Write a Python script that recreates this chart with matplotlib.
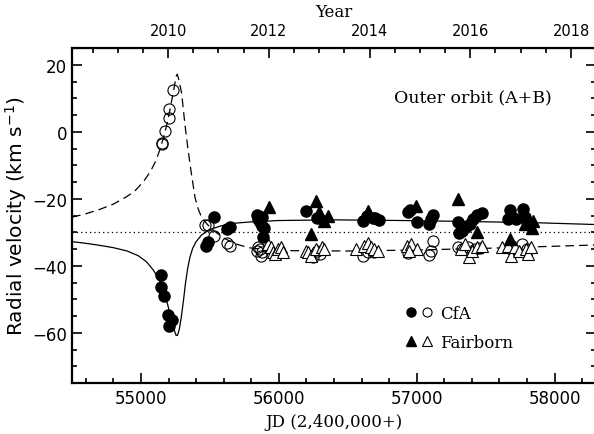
import numpy as np
import matplotlib
matplotlib.use("Agg")
import matplotlib.pyplot as plt
from matplotlib.ticker import MultipleLocator
from matplotlib.legend_handler import HandlerTuple

# CfA primary (filled circles)
cfa_a_jd = [55145, 55145, 55169, 55198, 55206, 55227,
            55472, 55488, 55532, 55622, 55646,
            55839, 55851, 55863, 55880, 55895, 55887, 55875,
            56197, 56274,
            56612, 56640, 56685, 56728, 56700,
            56934, 56950, 57004, 57091, 57115, 57105,
            57297, 57310, 57330, 57360, 57385, 57410, 57435, 57471,
            57660, 57676, 57690, 57720, 57772, 57785, 57800]
cfa_a_rv = [-42.7, -46.2, -48.9, -54.7, -57.9, -56.2,
            -34.0, -33.0, -25.5, -29.0, -28.5,
            -24.9, -26.0, -27.0, -28.2, -28.8, -31.3, -25.5,
            -23.8, -25.8,
            -26.5, -25.0, -25.7, -26.2, -25.8,
            -24.1, -23.5, -27.0, -27.6, -24.9, -26.0,
            -26.8, -30.2, -29.5, -28.5, -27.5, -26.0, -24.9, -24.3,
            -26.0, -23.5, -25.5, -26.0, -23.1, -25.5, -27.0]

# CfA secondary (open circles)
cfa_b_jd = [55150, 55152, 55177, 55201, 55203, 55230,
            55467, 55486, 55532, 55622, 55646,
            55839, 55851, 55863, 55870, 55880,
            56274, 56250, 56300,
            56612, 56690, 56650,
            56934, 57091, 57100, 57120,
            57300, 57330, 57370, 57420, 57460,
            57680, 57720, 57760, 57800]
cfa_b_rv = [-3.6, -3.4, 0.1, 4.0, 6.8, 12.6,
            -27.8, -27.8, -31.0, -33.2, -34.0,
            -35.5, -34.5, -35.0, -37.0, -36.0,
            -35.5, -37.3, -36.5,
            -37.2, -35.8, -36.0,
            -36.2, -36.8, -35.5, -32.5,
            -34.5, -35.0, -34.5, -35.0, -34.8,
            -35.0, -35.5, -33.5, -35.0]

# Fairborn primary (filled triangles)
fb_a_jd = [55931, 56231, 56267, 56293, 56327, 56359, 56649, 56995,
           57297, 57435, 57676, 57785, 57845, 57833]
fb_a_rv = [-22.6, -30.5, -20.6, -24.1, -26.5, -25.0, -23.6, -22.1,
           -20.1, -30.0, -32.0, -27.5, -26.5, -28.8]

# Fairborn secondary (open triangles)
fb_b_jd = [55924, 55942, 55960, 55972, 55995, 56015, 56030,
           56200, 56215, 56230, 56270, 56310, 56330,
           56560, 56620, 56650, 56665, 56690, 56720,
           56930, 56960, 57000, 56945,
           57320, 57350, 57380, 57400, 57440, 57470,
           57620, 57660, 57680, 57710, 57740, 57790, 57810, 57830]
fb_b_rv = [-33.5, -34.3, -36.0, -36.5, -35.0, -34.5, -36.0,
           -35.5, -36.0, -37.0, -35.0, -34.5, -35.0,
           -35.0, -34.0, -33.2, -34.5, -35.0, -35.5,
           -34.0, -33.5, -35.0, -35.5,
           -35.0, -33.5, -37.3, -35.5, -34.5, -34.0,
           -34.5, -34.0, -37.0, -34.5, -35.5, -35.0, -36.5, -34.5]

# orbit curves
curve_a_jd = [54500, 54600, 54700, 54800, 54900, 54980, 55040, 55090, 55130,
              55165, 55195, 55220, 55240, 55255, 55265, 55278, 55292, 55308,
              55322, 55338, 55355, 55375, 55400, 55440, 55500, 55580, 55680,
              55800, 56000, 56400, 56900, 57400, 57900, 58300]
curve_a_rv = [-32.8, -33.3, -33.9, -34.6, -35.6, -37.0, -38.8, -41.3, -44.0,
              -47.5, -51.8, -55.8, -59.0, -60.8, -60.8, -59.0, -55.5, -50.5,
              -45.5, -41.0, -37.5, -34.8, -32.8, -30.8, -29.2, -28.1, -27.3,
              -26.9, -26.5, -26.3, -26.5, -26.8, -27.2, -27.7]
curve_b_jd = [54500, 54600, 54700, 54800, 54900, 54960, 55020, 55070, 55110,
              55140, 55165, 55190, 55215, 55240, 55255, 55263, 55275, 55295,
              55320, 55340, 55358, 55375, 55393, 55415, 55440, 55480, 55530,
              55600, 55680, 55780, 55900, 56100, 56500, 57000, 57500, 57900,
              58300]
curve_b_rv = [-25.5, -24.5, -23.2, -21.6, -19.3, -17.5, -14.8, -11.8, -8.5,
              -5.0, -1.5, 2.5, 7.5, 13.0, 16.5, 17.2, 15.5, 11.5,
              1.8, -4.8, -10.3, -15.0, -19.8, -23.0, -25.6, -27.6, -29.6,
              -31.7, -33.4, -34.6, -35.2, -35.5, -35.6, -35.3, -34.8, -34.3,
              -33.8]
gamma = -30.0

plt.rcParams['font.family'] = 'DejaVu Sans'
fig = plt.figure(figsize=(5.94, 4.35), dpi=100)
ax = fig.add_axes([72/594, 1-384/435, 524/594, 335/435])

ax.plot(curve_a_jd, curve_a_rv, 'k-', lw=0.9)
ax.plot(curve_b_jd, curve_b_rv, 'k', lw=0.9, dashes=(7, 4))
ax.axhline(gamma, color='k', lw=0.9, ls=(0, (1, 2.5)))

ms = 8
ax.plot(cfa_b_jd, cfa_b_rv, 'o', mfc='none', mec='k', mew=0.8, ms=ms)
ax.plot(fb_b_jd, fb_b_rv, '^', mfc='white', mec='k', mew=0.8, ms=ms)
ax.plot(cfa_a_jd, cfa_a_rv, 'o', mfc='k', mec='k', ms=ms)
ax.plot(fb_a_jd, fb_a_rv, '^', mfc='k', mec='k', ms=ms)

ax.set_xlim(54500, 58300)
ax.set_ylim(-75, 25)
ax.xaxis.set_major_locator(MultipleLocator(1000))
ax.xaxis.set_minor_locator(MultipleLocator(200))
ax.yaxis.set_major_locator(MultipleLocator(20))
ax.yaxis.set_minor_locator(MultipleLocator(5))
ax.tick_params(which='both', direction='in', right=True, labelsize=12, width=1.2)
ax.tick_params(which='major', length=7)
ax.tick_params(which='minor', length=3.5)
ax.tick_params(axis='x', pad=4)
for s in ax.spines.values():
    s.set_linewidth(1.6)

def jd2yr(jd):
    return 2000.0 + (np.asarray(jd) + 2400000 - 2451544.5) / 365.25

def yr2jd(yr):
    return (np.asarray(yr) - 2000.0) * 365.25 + 2451544.5 - 2400000

top = ax.secondary_xaxis('top', functions=(jd2yr, yr2jd))
top.xaxis.set_major_locator(MultipleLocator(2))
top.xaxis.set_minor_locator(MultipleLocator(0.5))
top.tick_params(which='both', direction='in', labelsize=10.5, width=1.2, pad=7)
top.tick_params(which='major', length=7)
top.tick_params(which='minor', length=3.5)
top.set_xlabel('Year', fontsize=12, family='DejaVu Serif', labelpad=5)

ax.set_xlabel('JD (2,400,000+)', fontsize=12, family='DejaVu Serif', labelpad=5)
ax.set_ylabel('Radial velocity (km s$^{-1}$)', fontsize=14.5, labelpad=2)

ax.text(0.915, 0.855, 'Outer orbit (A+B)', transform=ax.transAxes,
        ha='right', va='center', fontsize=12.5, family='DejaVu Serif')

h1 = ax.plot([], [], 'o', mfc='k', mec='k', ms=6.5)[0]
h2 = ax.plot([], [], 'o', mfc='none', mec='k', mew=0.8, ms=6.5)[0]
h3 = ax.plot([], [], '^', mfc='k', mec='k', ms=6.5)[0]
h4 = ax.plot([], [], '^', mfc='none', mec='k', mew=0.8, ms=6.5)[0]
ax.legend([(h1, h2), (h3, h4)], ['CfA', 'Fairborn'],
          handler_map={tuple: HandlerTuple(ndivide=None, pad=0.4)},
          loc='lower left', bbox_to_anchor=(0.61, 0.05), frameon=False,
          handlelength=1.5, handletextpad=0.5, labelspacing=0.75,
          prop={'family': 'DejaVu Serif', 'size': 12})

fig.savefig('out.png', dpi=100)
